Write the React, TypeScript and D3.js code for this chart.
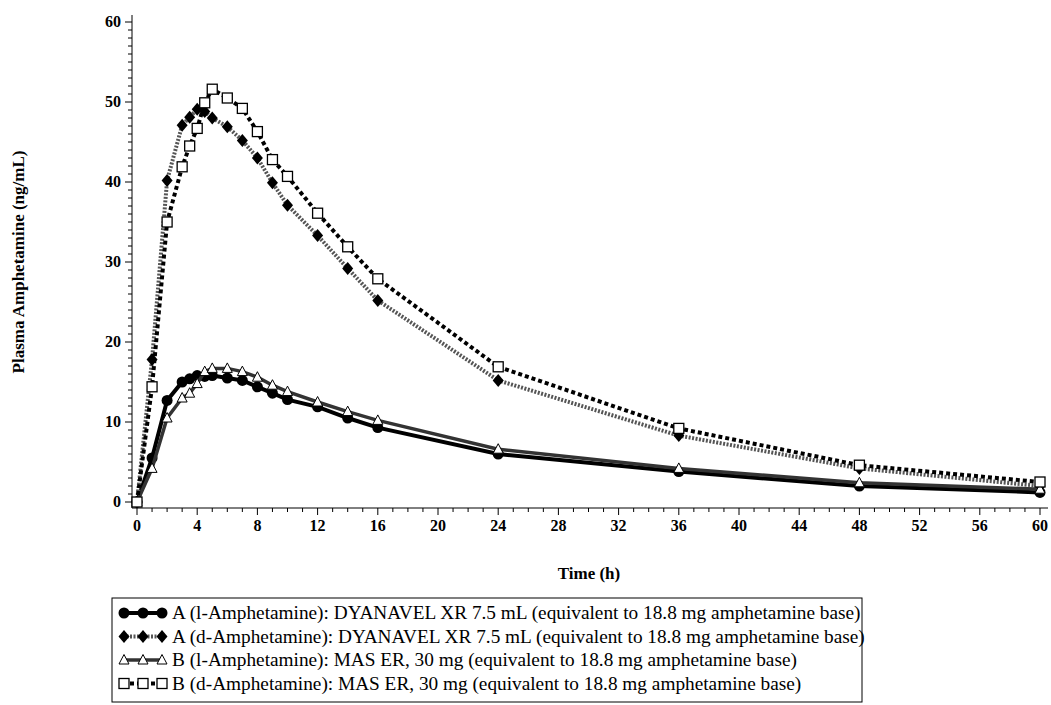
import React from "react";
import * as d3 from "d3";

const times = [0, 1, 2, 3, 3.5, 4, 4.5, 5, 6, 7, 8, 9, 10, 12, 14, 16, 24, 36, 48, 60];
const lA = [0, 5.5, 12.7, 15, 15.4, 15.8, 15.7, 15.8, 15.5, 15.2, 14.4, 13.6, 12.8, 11.9, 10.5, 9.3, 6.0, 3.8, 2.0, 1.2];
const dA = [0, 17.8, 40.2, 47.1, 48.1, 49.1, 48.8, 48.0, 46.9, 45.2, 43.0, 39.9, 37.1, 33.3, 29.2, 25.2, 15.2, 8.3, 4.2, 2.0];
const lB = [0, 4.2, 10.5, 13.0, 13.6, 14.8, 16.3, 16.7, 16.7, 16.3, 15.6, 14.6, 13.8, 12.5, 11.3, 10.2, 6.6, 4.2, 2.4, 1.6];
const dB = [0, 14.4, 35.0, 41.9, 44.5, 46.7, 49.9, 51.6, 50.5, 49.2, 46.3, 42.8, 40.7, 36.1, 31.9, 27.9, 16.9, 9.2, 4.6, 2.5];
const xTicks = d3.range(0, 61, 4);
const yTicks = d3.range(0, 61, 10);
const labels = [
  "A (l-Amphetamine): DYANAVEL XR 7.5 mL (equivalent to 18.8 mg amphetamine base)",
  "A (d-Amphetamine): DYANAVEL XR 7.5 mL (equivalent to 18.8 mg amphetamine base)",
  "B (l-Amphetamine): MAS ER, 30 mg (equivalent to 18.8 mg amphetamine base)",
  "B (d-Amphetamine): MAS ER, 30 mg (equivalent to 18.8 mg amphetamine base)",
];

const x = d3.scaleLinear().domain([0, 60]).range([137, 1040]);
const y = d3.scaleLinear().domain([0, 60]).range([502, 22]);

type S = { vals: number[]; stroke: string; dash?: string; marker: string; width: number };
const series: S[] = [
  { vals: lA, stroke: "#000", marker: "circle", width: 4 },
  { vals: dA, stroke: "#555", dash: "2,1.5", marker: "diamond", width: 4 },
  { vals: lB, stroke: "#333", marker: "triangle", width: 3.5 },
  { vals: dB, stroke: "#000", dash: "4,3", marker: "square", width: 4 },
];

function Marker({ kind, cx, cy }: { kind: string; cx: number; cy: number }) {
  if (kind === "circle") return <circle cx={cx} cy={cy} r={5.5} fill="#000" />;
  if (kind === "diamond")
    return <path d={`M${cx},${cy - 6.5}L${cx + 5.5},${cy}L${cx},${cy + 6.5}L${cx - 5.5},${cy}Z`} fill="#000" />;
  if (kind === "triangle")
    return <path d={`M${cx},${cy - 5.5}L${cx + 5},${cy + 4}L${cx - 5},${cy + 4}Z`} fill="#fff" stroke="#000" strokeWidth={1} />;
  return <rect x={cx - 5} y={cy - 5} width={10} height={10} fill="#fff" stroke="#000" strokeWidth={1.3} />;
}

export default function App() {
  const line = d3.line<number>().x((_, i) => x(times[i])).y((v) => y(v));
  const minorX = d3.range(0, 61, 1);
  const minorY = d3.range(0, 61, 1);
  return (
    <svg width={1051} height={705} style={{ display: "block", position: "absolute", left: 0, top: 0, fontFamily: "'Liberation Serif', serif" }}>
      <line x1={132} x2={132} y1={15} y2={508} stroke="#000" />
      <line x1={132} x2={1048} y1={508} y2={508} stroke="#000" />
      {minorX.map((t) => (
        <line key={"mx" + t} x1={x(t)} x2={x(t)} y1={508} y2={t % 4 === 0 ? 515 : 512} stroke="#000" />
      ))}
      {xTicks.map((t) => (
        <text key={"xt" + t} x={x(t)} y={531} textAnchor="middle" fontSize={16} fontWeight="bold">{t}</text>
      ))}
      {minorY.map((t) => (
        <line key={"my" + t} x1={132} x2={t % 10 === 0 ? 125 : 128} y1={y(t)} y2={y(t)} stroke="#000" />
      ))}
      {yTicks.map((t) => (
        <text key={"yt" + t} x={121} y={y(t) + 5} textAnchor="end" fontSize={16} fontWeight="bold">{t}</text>
      ))}
      <text x={589} y={579} textAnchor="middle" fontSize={17} fontWeight="bold">Time (h)</text>
      <text transform="translate(24,262) rotate(-90)" textAnchor="middle" fontSize={17} fontWeight="bold">Plasma Amphetamine (ng/mL)</text>
      {series.map((s, k) => (
        <g key={k}>
          <path d={line(s.vals) || ""} fill="none" stroke={s.stroke} strokeWidth={s.width} strokeDasharray={s.dash} />
          {s.vals.map((v, i) => <Marker key={i} kind={s.marker} cx={x(times[i])} cy={y(v)} />)}
        </g>
      ))}
      <rect x={112} y={598} width={750} height={104} fill="none" stroke="#000" />
      {series.map((s, k) => {
        const cy = 613 + k * 23.5;
        return (
          <g key={"l" + k}>
            <line x1={123} x2={162} y1={cy} y2={cy} stroke={s.stroke} strokeWidth={s.width} strokeDasharray={s.dash} />
            {[124, 143, 162].map((cx) => <Marker key={cx} kind={s.marker} cx={cx} cy={cy} />)}
            <text x={172} y={cy + 6} fontSize={19.3}>{labels[k]}</text>
          </g>
        );
      })}
    </svg>
  );
}
